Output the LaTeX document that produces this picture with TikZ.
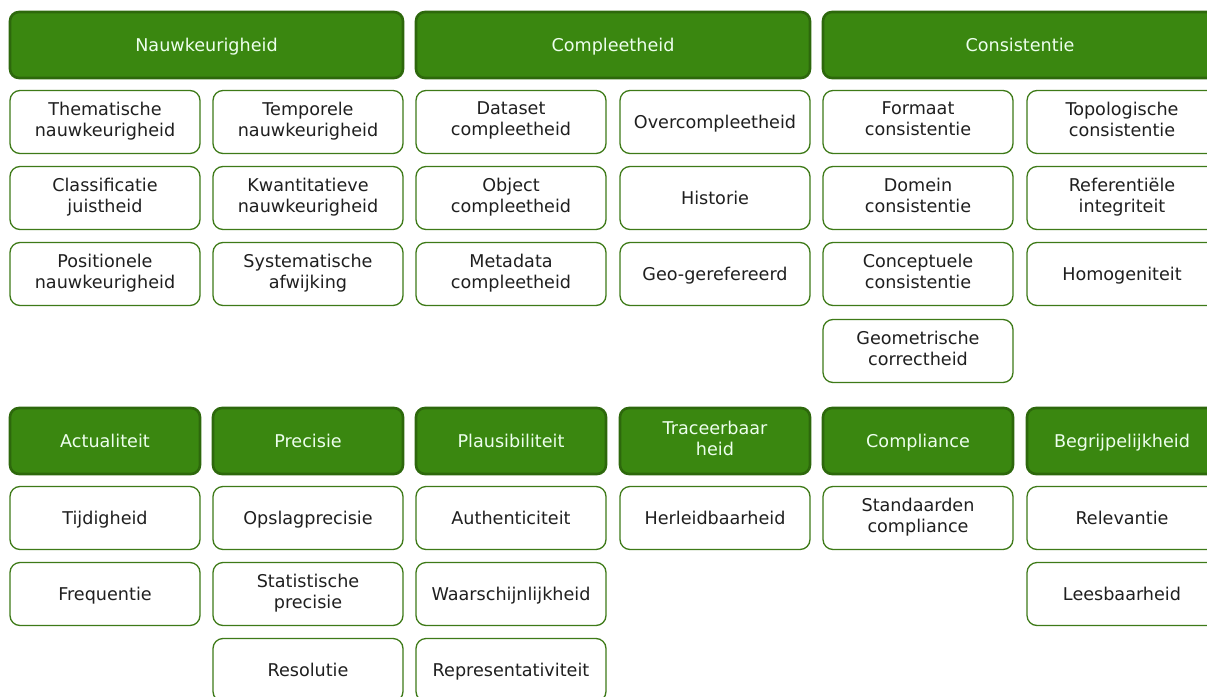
\documentclass[tikz,border=0pt]{standalone}
\usepackage{fontspec}
\setmainfont{DejaVu Sans}
\usepackage{tikz}
\definecolor{kopgroen}{RGB}{58,135,16}
\definecolor{koprand}{RGB}{45,104,12}
\definecolor{itemrand}{RGB}{62,122,24}
\tikzset{
  kop/.style={
    draw=koprand, fill=kopgroen, line width=2.6pt,
    rounded corners=9pt, minimum height=66pt, inner sep=0pt,
    text=white!93!green, align=center,
    font=\fontsize{17.6}{21}\selectfont,
    execute at begin node={\rule{0pt}{18.7pt}}, execute at end node=\strut
  },
  item/.style={
    draw=itemrand, fill=white, line width=1.3pt,
    rounded corners=10pt, minimum width=190pt, minimum height=63pt,
    inner sep=0pt, text=black!88, align=center,
    font=\fontsize{17.6}{21}\selectfont,
    execute at begin node={\rule{0pt}{18.7pt}}, execute at end node=\strut
  }
}
\begin{document}
\begin{tikzpicture}[x=1pt,y=-1pt]
    \useasboundingbox (0,0) rectangle (1207,696);
    \clip (0,0) rectangle (1207,696);

    \node[kop, minimum width=393pt] (nauw) at (206.5,45) {Nauwkeurigheid};
    \node[kop, minimum width=394pt] (comp) at (613,45) {Compleetheid};
    \node[kop, minimum width=394pt] (cons) at (1020,45) {Consistentie};

    \node[item] (thema) at (105,122) {Thematische\\nauwkeurigheid};
    \node[item] (klass) at (105,198) {Classificatie\\juistheid};
    \node[item] (posit) at (105,274) {Positionele\\nauwkeurigheid};

    \node[item] (tempo) at (308,122) {Temporele\\nauwkeurigheid};
    \node[item] (kwant) at (308,198) {Kwantitatieve\\nauwkeurigheid};
    \node[item] (syst) at (308,274) {Systematische\\afwijking};

    \node[item] (dataset) at (511,122) {Dataset\\compleetheid};
    \node[item] (object) at (511,198) {Object\\compleetheid};
    \node[item] (meta) at (511,274) {Metadata\\compleetheid};

    \node[item] (over) at (715,122) {Overcompleetheid};
    \node[item] (hist) at (715,198) {Historie};
    \node[item] (geo) at (715,274) {Geo-gerefereerd};

    \node[item] (formaat) at (918,122) {Formaat\\consistentie};
    \node[item] (domein) at (918,198) {Domein\\consistentie};
    \node[item] (concept) at (918,274) {Conceptuele\\consistentie};
    \node[item] (geom) at (918,351) {Geometrische\\correctheid};

    \node[item] (topo) at (1122,122) {Topologische\\consistentie};
    \node[item] (refint) at (1122,198) {Referentiële\\integriteit};
    \node[item] (homo) at (1122,274) {Homogeniteit};

    \node[kop, minimum width=190pt] (actu) at (105,441) {Actualiteit};
    \node[kop, minimum width=190pt] (prec) at (308,441) {Precisie};
    \node[kop, minimum width=190pt] (plaus) at (511,441) {Plausibiliteit};
    \node[kop, minimum width=190pt] (trace) at (715,441) {Traceerbaar\\heid};
    \node[kop, minimum width=190pt] (compl) at (918,441) {Compliance};
    \node[kop, minimum width=190pt] (begr) at (1122,441) {Begrijpelijkheid};

    \node[item] (tijd) at (105,518) {Tijdigheid};
    \node[item] (freq) at (105,594) {Frequentie};

    \node[item] (opslag) at (308,518) {Opslagprecisie};
    \node[item] (stat) at (308,594) {Statistische\\precisie};
    \node[item] (reso) at (308,670) {Resolutie};

    \node[item] (auth) at (511,518) {Authenticiteit};
    \node[item] (waar) at (511,594) {Waarschijnlijkheid};
    \node[item] (repr) at (511,670) {Representativiteit};

    \node[item] (herl) at (715,518) {Herleidbaarheid};

    \node[item] (stand) at (918,518) {Standaarden\\compliance};

    \node[item] (rele) at (1122,518) {Relevantie};
    \node[item] (lees) at (1122,594) {Leesbaarheid};
\end{tikzpicture}
\end{document}
